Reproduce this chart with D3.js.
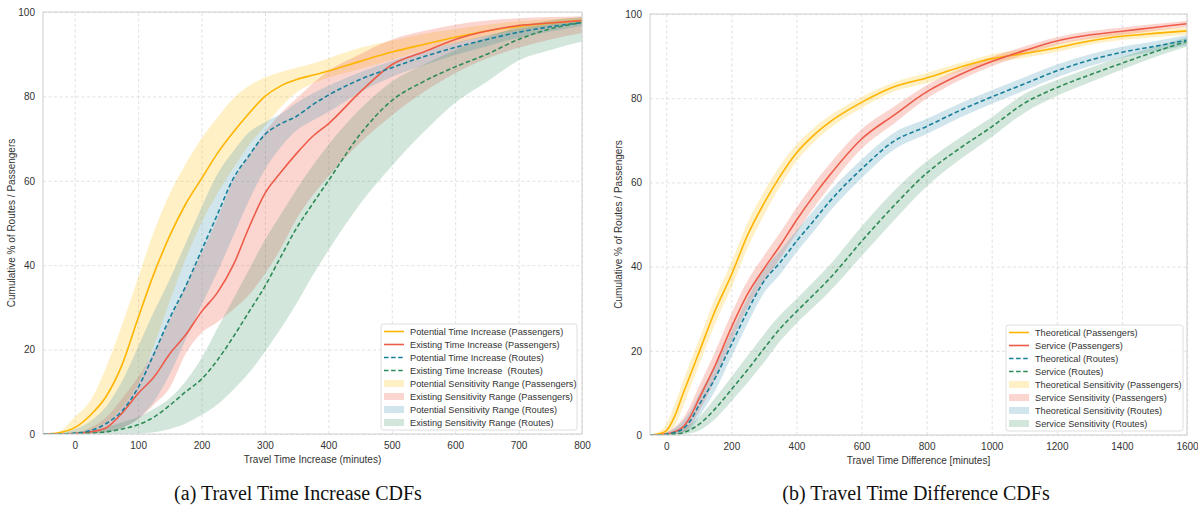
<!DOCTYPE html>
<html>
<head>
<meta charset="utf-8">
<script src="https://cdn.jsdelivr.net/npm/d3@7"></script>
<style>
  body { margin: 0; background: #fff; }
  svg { display: block; font-family: "Liberation Sans", Arial, sans-serif; }
  .legend text { white-space: pre; }
</style>
</head>
<body>
<svg id="fig" width="1198" height="511"></svg>
<script>
// ---------- Panel (a): travel time increase CDFs ----------
const incMinutes = [-50,-25,0,25,50,75,100,125,150,175,200,225,250,275,300,325,350,375,400,450,500,550,600,650,700,750,800];

const incPotPax   = [0,0.3,1.5,4.5,9,16.5,27.5,38,47,54.5,60.5,66.5,71.5,76,80,82.5,84,85,86,88.3,90.5,92.3,94,95.5,96.6,97.4,98];
const incPotPaxHi = [0,0.6,4,8,16,26,37,48,57,64,70,75,79.5,82.5,84.5,85.8,86.8,87.8,89,91.5,93.2,94.8,96,97,97.8,98.3,98.7];
const incPotPaxLo = [0,0,0.1,0.8,2.7,6.3,12,21,31.5,41.5,50,57,63,68.5,73,77.5,81,83,84.4,86.5,88.7,90.9,92.6,94.2,95.6,96.7,97.5];

const incExPax    = [0,0,0.1,0.5,1.5,5,9.6,13.5,19,23.5,29,33.5,40,49,57,62,66.5,70.5,73.5,81,87.5,90.5,93.5,95.5,96.8,97.4,98];
const incExPaxHi  = [0,0,0.3,1.5,4,8.5,13.5,19.5,27,35,43,51,60,66,71.5,76,79.5,83,86,90,93.5,95.5,97,98,98.5,98.8,99];
const incExPaxLo  = [0,0,0,0.1,0.5,1.5,3.5,7,11,19,24,26.5,29.5,33,38,44,51,56.5,61,69,75.5,81,85.5,89,91.5,93.5,95];

const incPotRte   = [0,0,0.2,0.8,2.5,5.5,11,19,27.5,35,43.5,52,60.5,66,71,73.5,75.3,78,80.3,84,86.8,89.4,91.6,93.5,95.2,96.5,97.5];
const incPotRteHi = [0,0.3,1.1,3.1,6.6,12.6,20.7,29,36.7,45.2,53.7,61.6,67,71.5,73.9,75.8,78.5,80.7,82.5,85.7,88.4,90.7,92.7,94.5,96,97.1,98];
const incPotRteLo = [0,0,0,0.1,0.4,1.5,3.7,7.7,14.2,22.4,30.5,38.4,46.9,55.4,62.7,68,72,74.3,76.3,81,84.6,87.3,89.8,91.9,93.9,95.4,96.7];

const incExRte    = [0,0,0,0.2,0.5,1.2,2.2,4,6.8,10,13,17.5,23,29,35,42,48.8,54.5,60,71,79,83.5,87,90,93.5,96,97.5];
const incExRteHi  = [0,0,0.3,0.8,1.6,2.8,4,6,8.5,12.5,18,25,32,39,46,52,58,63.5,68.5,77,83.5,87.5,91,94,96.5,98,98.8];
const incExRteLo  = [0,0,0,0,0,0,0.1,0.4,1.2,2.5,4.5,7,10.5,14.5,19.5,25,31,37.5,43.5,54.5,63.5,71.5,78.5,83.5,88.5,91,93];

const incTicks = [0,100,200,300,400,500,600,700,800];
const incLabels = [
  "Potential Time Increase (Passengers)",
  "Existing Time Increase (Passengers)",
  "Potential Time Increase (Routes)",
  "Existing Time Increase  (Routes)",
  "Potential Sensitivity Range (Passengers)",
  "Existing Sensitivity Range (Passengers)",
  "Potential Sensitivity Range (Routes)",
  "Existing Sensitivity Range (Routes)"
];

// ---------- Panel (b): travel time difference CDFs ----------
const diffMinutes = [-50,-25,0,25,50,75,100,150,200,250,300,350,400,450,500,600,700,800,900,1000,1100,1200,1300,1400,1500,1600];

const diffTheoPax   = [0,0.2,1,4.3,9.5,14.5,19.5,29.5,38,47.5,55,61.5,67,71,74.2,79,82.7,84.8,87.3,89.4,90.6,92,93.6,94.7,95.4,96];
const diffTheoPaxHi = [0.1,0.7,2.5,7,12.5,17.5,22.5,32.5,41,50.5,57.8,64,69,72.7,75.7,80.3,83.8,86,88.3,90.4,91.6,93,94.5,95.6,96.3,96.9];
const diffTheoPaxLo = [0,0,0.3,2,6.5,11.5,16.5,26.5,35,44.5,52.2,59,65,69.3,72.7,77.7,81.6,83.6,86.3,88.4,89.6,91,92.7,93.8,94.5,95.1];

const diffSvcPax    = [0,0,0.2,0.8,1.8,4.5,8.5,16.5,25.5,33.5,39.5,45,51,56.5,61.5,70.3,76,81.5,85.5,88.7,91.3,93.6,95,95.9,96.8,97.7];
const diffSvcPaxHi  = [0,0.1,0.6,1.8,3.8,7.2,11.5,19.8,28.8,36.7,42.6,48.1,54,59.4,64.2,72.6,78,83.1,86.8,89.8,92.3,94.5,95.9,96.8,97.6,98.4];
const diffSvcPaxLo  = [0,0,0,0.2,0.6,2.2,5.5,13.2,22.2,30.3,36.4,41.9,48,53.6,58.8,68,74,79.9,84.2,87.6,90.3,92.7,94.1,95,96,97];

const diffTheoRte   = [0,0,0.2,0.6,1.4,3.5,7,13.5,21.5,29.5,36.5,41,46,50.6,55.3,63.2,69.8,73.3,77,80.3,83.4,86.5,89,90.9,92.3,93.8];
const diffTheoRteHi = [0,0.1,0.6,1.6,3.2,5.8,9.6,16.5,24.5,32.5,39.3,43.8,48.6,53.1,57.7,65.4,71.8,75.1,78.7,81.9,85,88,90.4,92.2,93.5,95];
const diffTheoRteLo = [0,0,0,0.1,0.5,1.5,4.3,10.5,18.5,26.5,33.7,38.2,43.4,48.1,52.9,61,67.8,71.5,75.3,78.7,81.8,85,87.6,89.6,91.1,92.6];

const diffSvcRte    = [0,0,0,0.2,0.5,1.3,2.5,6.2,10.8,15.5,20.5,25.3,29.3,33.1,37,46,54.5,62.2,68,73.2,78.8,82.5,85.5,88.3,91,93.5];
const diffSvcRteHi  = [0,0,0.2,0.6,1.4,2.6,4.2,8.8,13.8,18.8,23.9,28.5,32.3,36.2,40.2,49.5,58,65,70.5,75.5,81,84.3,87.2,89.8,92.2,94.5];
const diffSvcRteLo  = [0,0,0,0,0.1,0.4,1,3.8,8,12.5,17.2,22.3,26.5,30.2,33.9,42.5,51,59,65.3,70.8,76.5,80.5,83.7,86.8,89.7,92.3];

const diffTicks = [0,200,400,600,800,1000,1200,1400,1600];
const diffLabels = [
  "Theoretical (Passengers)",
  "Service (Passengers)",
  "Theoretical (Routes)",
  "Service (Routes)",
  "Theoretical Sensitivity (Passengers)",
  "Service Sensitivity (Passengers)",
  "Theoretical Sensitivity (Routes)",
  "Service Sensitivity (Routes)"
];

const yTicks = [0,20,40,60,80,100];

// ---------- styling shared by both panels ----------
const lineColors = ["#FFB400", "#EE5B48", "#187F9B", "#2E8B57"];
const lineDash   = [null, null, "4.5,2.6", "4.5,2.6"];
const fillColors = ["#FFC21A", "#F05A46", "#4696B4", "#2E8B57"];
const fillAlpha  = [0.25, 0.25, 0.25, 0.21];

const svg = d3.select("#fig");
const defs = svg.append("defs");
const intFmt = d3.format("d");

function drawPanel(o) {
  const x = d3.scaleLinear().domain(o.xDomain).range([o.left, o.right]);
  const y = d3.scaleLinear().domain([0, 100]).range([o.bottom, o.top]);
  const g = svg.append("g");

  defs.append("clipPath").attr("id", o.id + "-clip")
    .append("rect")
    .attr("x", o.left).attr("y", o.top)
    .attr("width", o.right - o.left).attr("height", o.bottom - o.top);

  // grid
  const grid = g.append("g").attr("class", "grid");
  grid.append("g")
    .attr("transform", `translate(0,${o.bottom})`)
    .call(d3.axisBottom(x).tickValues(o.xTicks).tickSize(-(o.bottom - o.top)).tickFormat(""))
    .call(s => s.select(".domain").remove());
  grid.append("g")
    .attr("transform", `translate(${o.left},0)`)
    .call(d3.axisLeft(y).tickValues(yTicks).tickSize(-(o.right - o.left)).tickFormat(""))
    .call(s => s.select(".domain").remove());
  grid.selectAll("line")
    .attr("stroke", "#d9d9d9").attr("stroke-width", 0.8).attr("stroke-dasharray", "3,2.5");

  const plot = g.append("g").attr("clip-path", `url(#${o.id}-clip)`);

  // sensitivity bands
  o.series.forEach((s, k) => {
    const area = d3.area()
      .x((d, i) => x(o.xs[i]))
      .y0((d, i) => y(s.lo[i]))
      .y1((d, i) => y(s.hi[i]))
      .curve(d3.curveMonotoneX);
    plot.append("path").datum(s.lo)
      .attr("d", area)
      .attr("fill", fillColors[k]).attr("fill-opacity", fillAlpha[k]);
  });

  // CDF lines
  o.series.forEach((s, k) => {
    const line = d3.line()
      .x((d, i) => x(o.xs[i]))
      .y(d => y(d))
      .curve(d3.curveMonotoneX);
    plot.append("path").datum(s.mid)
      .attr("d", line)
      .attr("fill", "none")
      .attr("stroke", lineColors[k])
      .attr("stroke-width", 1.6)
      .attr("stroke-dasharray", lineDash[k]);
  });

  // frame
  g.append("rect")
    .attr("x", o.left).attr("y", o.top)
    .attr("width", o.right - o.left).attr("height", o.bottom - o.top)
    .attr("fill", "none").attr("stroke", "#cfcfcf").attr("stroke-width", 1);

  // tick labels
  const xa = g.append("g")
    .attr("transform", `translate(0,${o.bottom})`)
    .call(d3.axisBottom(x).tickValues(o.xTicks).tickFormat(intFmt).tickSize(0).tickPadding(8));
  const ya = g.append("g")
    .attr("transform", `translate(${o.left},0)`)
    .call(d3.axisLeft(y).tickValues(yTicks).tickFormat(intFmt).tickSize(0).tickPadding(8));
  [xa, ya].forEach(a => {
    a.select(".domain").remove();
    a.selectAll("text").attr("fill", "#333").attr("font-size", 10)
      .attr("font-family", "'Liberation Sans', Arial, sans-serif");
  });

  // axis titles
  g.append("text")
    .attr("x", (o.left + o.right) / 2).attr("y", o.bottom + 29)
    .attr("text-anchor", "middle").attr("font-size", 10).attr("fill", "#333")
    .text(o.xTitle);
  g.append("text")
    .attr("transform", `translate(${o.left - 28},${(o.top + o.bottom) / 2}) rotate(-90)`)
    .attr("text-anchor", "middle").attr("font-size", 10).attr("fill", "#333")
    .text("Cumulative % of Routes / Passengers");

  // legend
  const lg = g.append("g").attr("class", "legend");
  lg.append("rect")
    .attr("x", o.legend.x).attr("y", o.legend.y)
    .attr("width", o.legend.w).attr("height", o.legend.h)
    .attr("rx", 2.5)
    .attr("fill", "#fff").attr("fill-opacity", 0.85)
    .attr("stroke", "#d6d6d6").attr("stroke-width", 0.8);
  o.labels.forEach((lab, i) => {
    const cy = o.legend.y + 7.5 + i * 13;
    const hx = o.legend.x + 3;
    if (i < 4) {
      lg.append("line")
        .attr("x1", hx).attr("x2", hx + 20).attr("y1", cy).attr("y2", cy)
        .attr("stroke", lineColors[i]).attr("stroke-width", 1.6)
        .attr("stroke-dasharray", lineDash[i]);
    } else {
      lg.append("rect")
        .attr("x", hx).attr("y", cy - 3.5).attr("width", 20).attr("height", 7)
        .attr("fill", fillColors[i - 4]).attr("fill-opacity", fillAlpha[i - 4]);
    }
    lg.append("text")
      .attr("x", hx + 26).attr("y", cy).attr("dy", "0.35em")
      .attr("font-size", 9.2).attr("fill", "#333")
      .text(lab);
  });

  // caption
  svg.append("text")
    .attr("x", o.captionX).attr("y", 500)
    .attr("text-anchor", "middle")
    .attr("font-family", "'Liberation Serif', 'Times New Roman', serif")
    .attr("font-size", 20).attr("fill", "#111")
    .text(o.caption);
}

drawPanel({
  id: "inc", left: 43, right: 582, top: 12, bottom: 434,
  xDomain: [-50, 800], xTicks: incTicks, xs: incMinutes,
  series: [
    { mid: incPotPax, lo: incPotPaxLo, hi: incPotPaxHi },
    { mid: incExPax,  lo: incExPaxLo,  hi: incExPaxHi },
    { mid: incPotRte, lo: incPotRteLo, hi: incPotRteHi },
    { mid: incExRte,  lo: incExRteLo,  hi: incExRteHi }
  ],
  labels: incLabels,
  legend: { x: 381, y: 324, w: 196, h: 106 },
  xTitle: "Travel Time Increase (minutes)",
  caption: "(a) Travel Time Increase CDFs", captionX: 298
});

drawPanel({
  id: "diff", left: 650, right: 1187, top: 14, bottom: 435,
  xDomain: [-50, 1600], xTicks: diffTicks, xs: diffMinutes,
  series: [
    { mid: diffTheoPax, lo: diffTheoPaxLo, hi: diffTheoPaxHi },
    { mid: diffSvcPax,  lo: diffSvcPaxLo,  hi: diffSvcPaxHi },
    { mid: diffTheoRte, lo: diffTheoRteLo, hi: diffTheoRteHi },
    { mid: diffSvcRte,  lo: diffSvcRteLo,  hi: diffSvcRteHi }
  ],
  labels: diffLabels,
  legend: { x: 1006, y: 325, w: 177, h: 106 },
  xTitle: "Travel Time Difference [minutes]",
  caption: "(b) Travel Time Difference CDFs", captionX: 916
});
</script>
</body>
</html>
